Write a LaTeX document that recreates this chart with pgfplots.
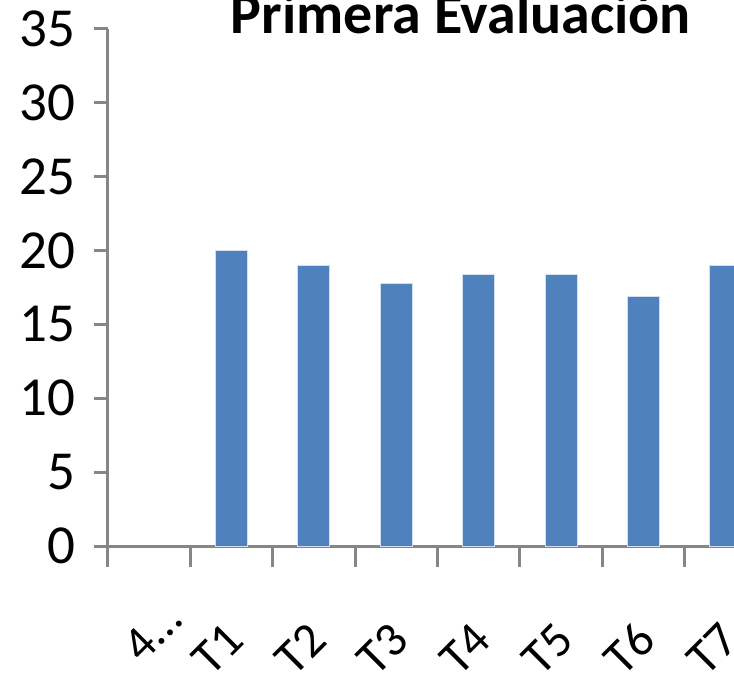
\documentclass[border=0pt]{standalone}
\usepackage{fontspec}
\setmainfont{Carlito}
\usepackage{pgfplots}
\pgfplotsset{compat=1.18}
\definecolor{barblue}{HTML}{4F81BD}
\definecolor{axgray}{HTML}{868686}
\begin{document}
\begin{tikzpicture}[x=1pt,y=1pt]
\useasboundingbox (0,0) rectangle (734,678);
\begin{axis}[
  at={(108pt,132pt)}, anchor=south west,
  scale only axis, width=659pt, height=517pt,
  xmin=-0.5, xmax=7.5, ymin=0, ymax=35,
  ytick={0,5,...,35},
  xtick={0,...,7},
  xticklabels={\makebox[30pt][l]{4…},T1,T2,T3,T4,T5,T6,T7},
  minor xtick={-0.5,0.5,...,7.5},
  axis x line*=bottom, axis y line*=left,
  axis line style={axgray, line width=3pt},
  every tick/.style={axgray, line width=3pt},
  every major x tick/.style={draw=none},
  tick align=outside,
  major tick length=14pt, minor tick length=21pt,
  tick label style={font=\fontsize{55}{60}\selectfont},
  yticklabel style={xshift=-15pt},
  /pgf/number format/assume math mode=true,
  xticklabel style={font=\fontsize{49}{52}\selectfont, xshift=15pt, rotate=45, anchor=base east, inner sep=0pt},
  xticklabel shift=83pt,
  clip=false,
]
\addplot[ybar, bar width=32pt, fill=barblue, draw=white!75!barblue, line width=1pt]
  coordinates {(1,20) (2,19) (3,17.8) (4,18.4) (5,18.4) (6,16.9) (7,19)};
\end{axis}
\node[anchor=base, font=\bfseries\fontsize{58}{60}\selectfont] at (461,644) {Primera Evaluación};
\end{tikzpicture}
\end{document}
